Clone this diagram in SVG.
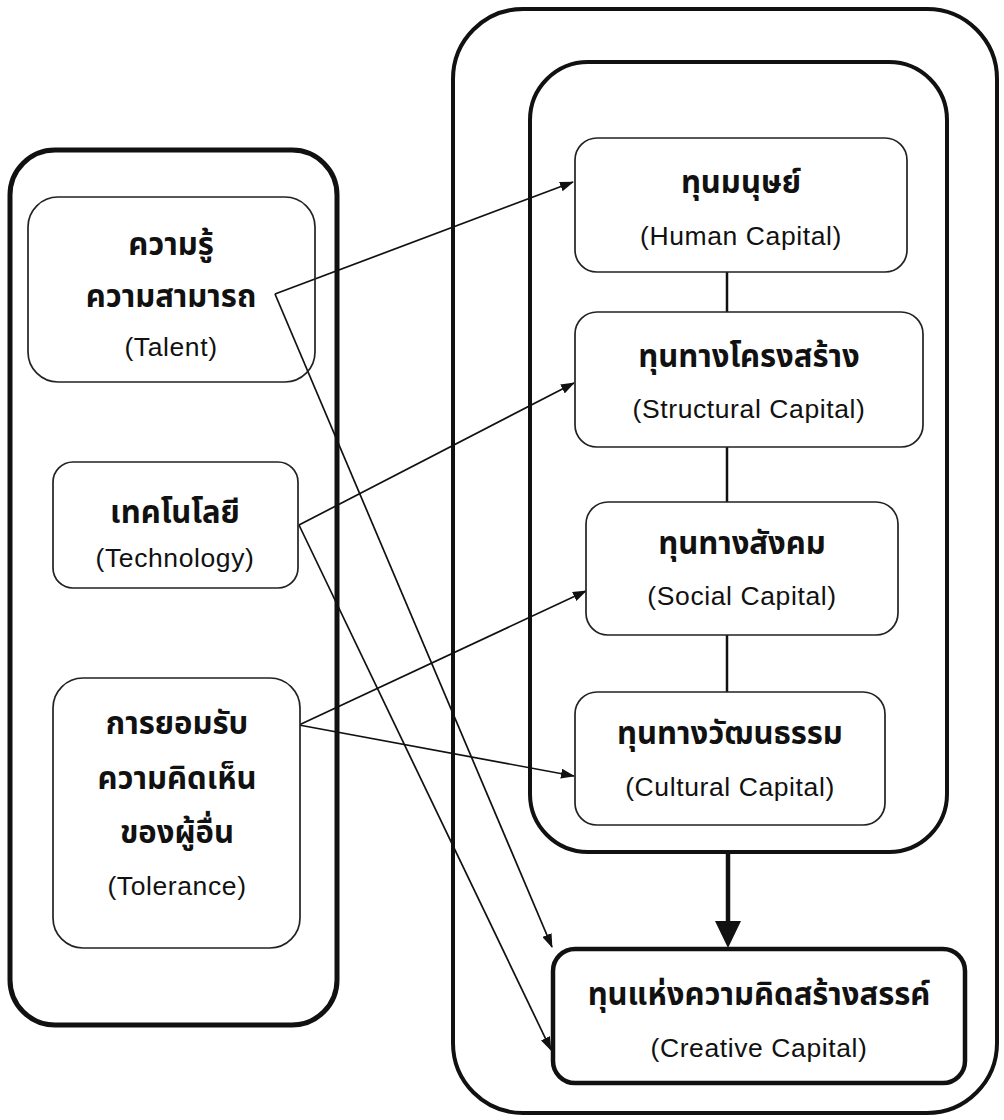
<svg xmlns="http://www.w3.org/2000/svg" width="1004" height="1120" viewBox="0 0 1004 1120">
  <style>
    .bg { fill: #ffffff; }
    .outer { fill: none; stroke: #111; stroke-width: 5; }
    .group { fill: none; stroke: #111; stroke-width: 4; }
    .box { fill: #fff; stroke: #222; stroke-width: 1.7; }
    .boxb { fill: #fff; stroke: #111; stroke-width: 4.5; }
    .th { font-family: "Noto Sans Thai", "Noto Sans", "DejaVu Sans", sans-serif; font-weight: bold; font-size: 31px; fill: #111; text-anchor: middle; }
    .en { font-family: "Liberation Sans", Arial, sans-serif; font-size: 26.5px; fill: #111; text-anchor: middle; letter-spacing: 0.6px; }
    .link { stroke: #111; stroke-width: 1.7; fill: none; marker-end: url(#ah); }
    .vline { stroke: #111; stroke-width: 2.5; fill: none; }
  </style>
  <defs>
    <marker id="ah" markerUnits="userSpaceOnUse" markerWidth="14" markerHeight="10" refX="13" refY="5" orient="auto">
      <path d="M0,0 L14,5 L0,10 Z" fill="#111"/>
    </marker>
  </defs>
  <rect class="bg" x="0" y="0" width="1004" height="1120"/>

  <g id="left-group">
    <rect class="outer" x="10" y="150" width="327" height="875" rx="45" ry="45"/>
  </g>
  <g id="right-outer">
    <rect class="group" x="453" y="9" width="544" height="1104" rx="70" ry="70"/>
  </g>
  <g id="inner-group">
    <rect class="group" x="530" y="62" width="417" height="790" rx="58" ry="58"/>
  </g>

  <g id="connectors">
    <line class="vline" x1="727" y1="272" x2="727" y2="312"/>
    <line class="vline" x1="727" y1="447" x2="727" y2="502"/>
    <line class="vline" x1="727" y1="635" x2="727" y2="692"/>
    <line x1="728" y1="852" x2="728" y2="926" stroke="#111" stroke-width="4.5"/>
    <polygon points="715,921 741,921 728,948" fill="#111"/>
    <line class="link" x1="275" y1="294" x2="573" y2="182"/>
    <line class="link" x1="275" y1="294" x2="552" y2="947"/>
    <line class="link" x1="299" y1="525" x2="574" y2="383"/>
    <line class="link" x1="299" y1="525" x2="551" y2="1050"/>
    <line class="link" x1="299" y1="725" x2="586" y2="591"/>
    <line class="link" x1="299" y1="725" x2="574" y2="776"/>
  </g>

  <g id="talent">
    <rect class="box" x="28" y="197" width="287" height="185" rx="30" ry="30" style="fill:none"/>
    <text class="th" x="171" y="255">ความรู้</text>
    <text class="th" x="171" y="307">ความสามารถ</text>
    <text class="en" x="171" y="356">(Talent)</text>
  </g>
  <g id="technology">
    <rect class="box" x="53" y="462" width="245" height="126" rx="20" ry="20"/>
    <text class="th" x="175" y="523">เทคโนโลยี</text>
    <text class="en" x="175" y="567">(Technology)</text>
  </g>
  <g id="tolerance">
    <rect class="box" x="53" y="678" width="247" height="270" rx="30" ry="30"/>
    <text class="th" x="177" y="734">การยอมรับ</text>
    <text class="th" x="177" y="789">ความคิดเห็น</text>
    <text class="th" x="177" y="843">ของผู้อื่น</text>
    <text class="en" x="177" y="895">(Tolerance)</text>
  </g>

  <g id="human">
    <rect class="box" x="575" y="138" width="332" height="134" rx="22" ry="22"/>
    <text class="th" x="741" y="193">ทุนมนุษย์</text>
    <text class="en" x="741" y="245">(Human Capital)</text>
  </g>
  <g id="structural">
    <rect class="box" x="575" y="312" width="348" height="135" rx="22" ry="22"/>
    <text class="th" x="749" y="367">ทุนทางโครงสร้าง</text>
    <text class="en" x="749" y="418">(Structural Capital)</text>
  </g>
  <g id="social">
    <rect class="box" x="586" y="502" width="312" height="133" rx="22" ry="22"/>
    <text class="th" x="742" y="554">ทุนทางสังคม</text>
    <text class="en" x="742" y="605">(Social Capital)</text>
  </g>
  <g id="cultural">
    <rect class="box" x="575" y="692" width="310" height="133" rx="22" ry="22"/>
    <text class="th" x="730" y="744">ทุนทางวัฒนธรรม</text>
    <text class="en" x="730" y="796">(Cultural Capital)</text>
  </g>
  <g id="creative">
    <rect class="boxb" x="553" y="949" width="412" height="134" rx="22" ry="22"/>
    <text class="th" x="759" y="1005">ทุนแห่งความคิดสร้างสรรค์</text>
    <text class="en" x="759" y="1057">(Creative Capital)</text>
  </g>
</svg>
